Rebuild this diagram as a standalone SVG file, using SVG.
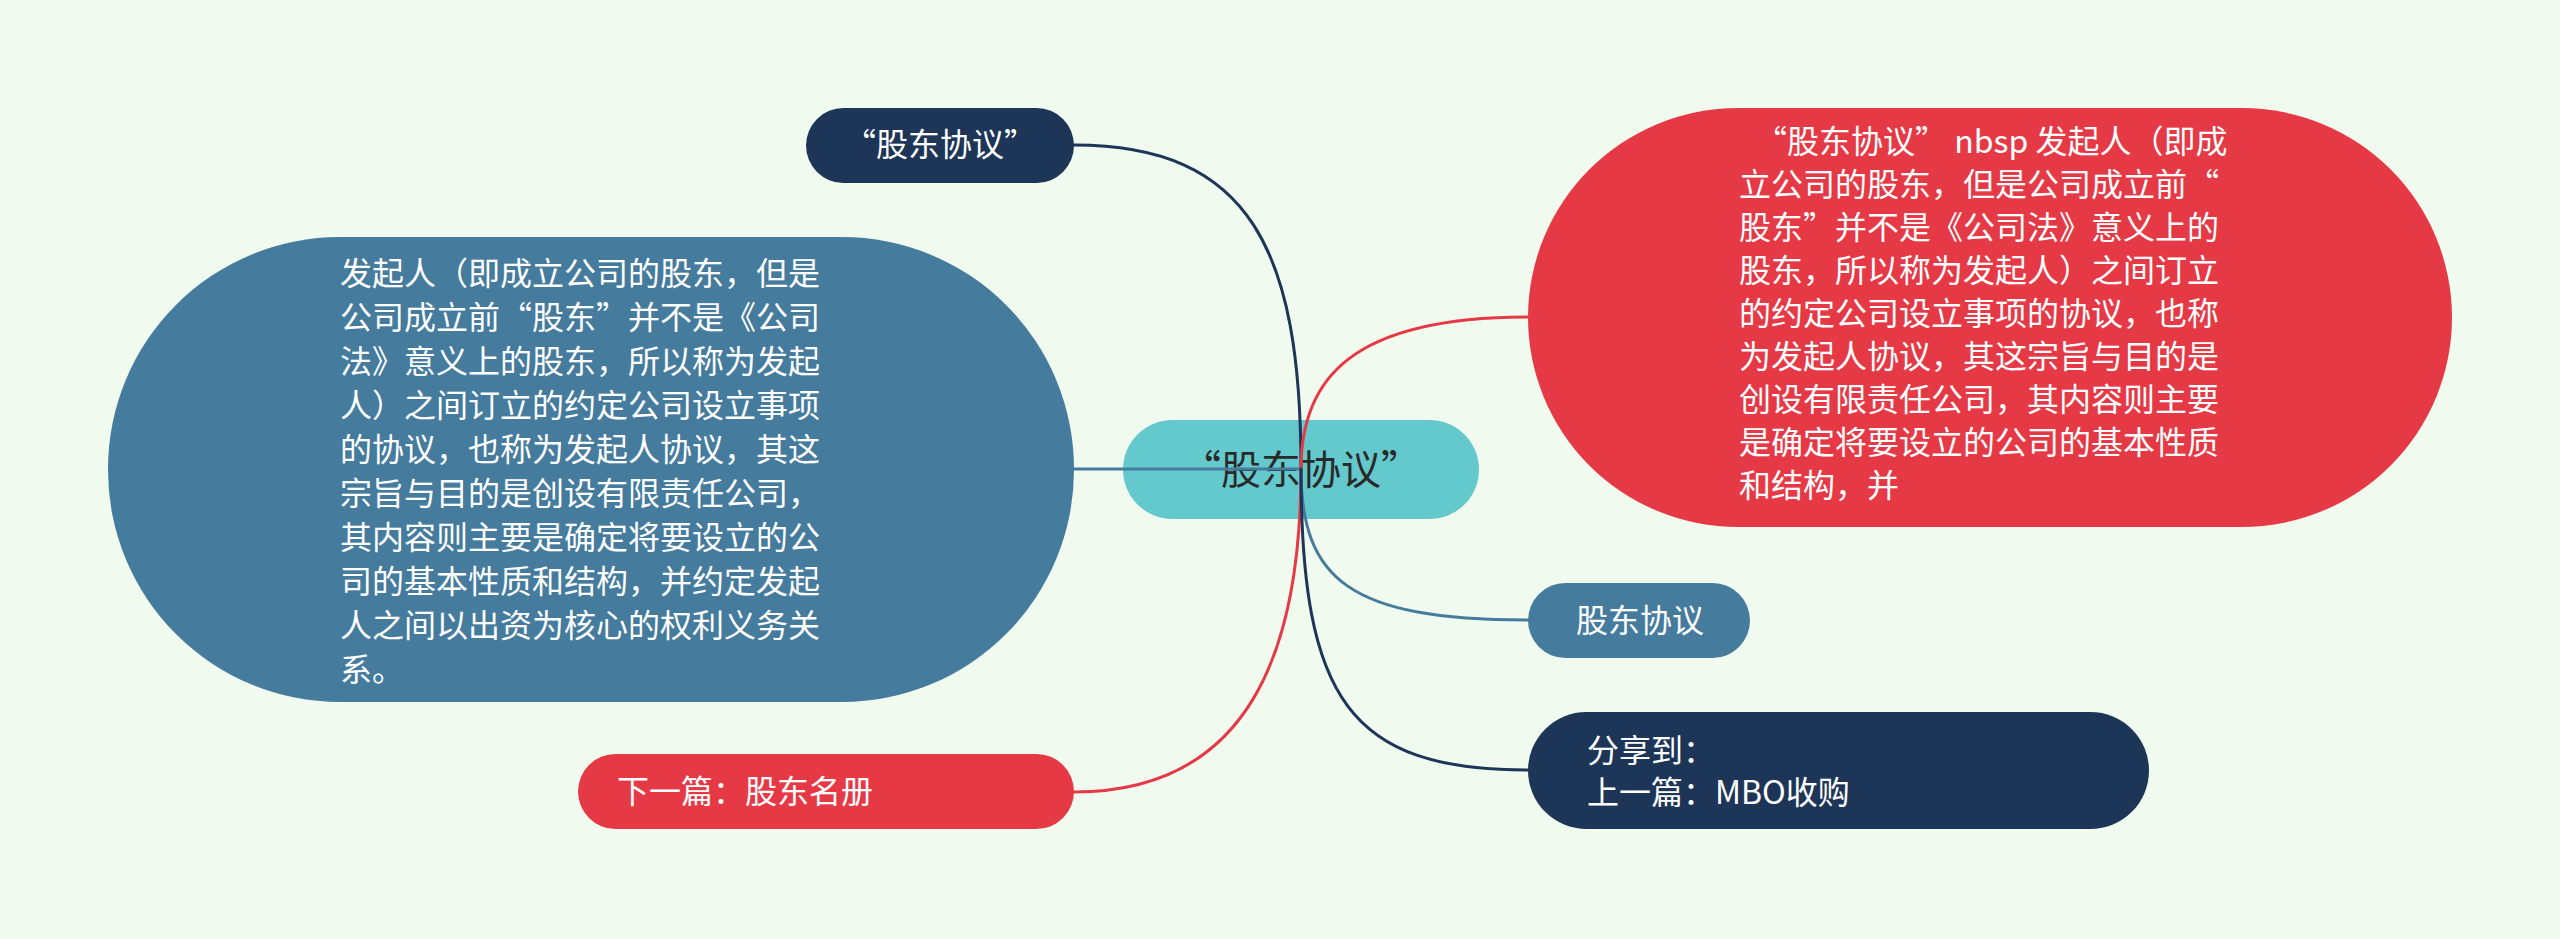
<svg xmlns="http://www.w3.org/2000/svg" width="2560" height="939" viewBox="0 0 2560 939">
<style>
.t{font-family:"Noto Sans CJK SC","Liberation Sans",sans-serif;font-size:32px;fill:#ffffff}
.c{fill:none;stroke-width:3;stroke-linecap:round}
</style>
<rect x="0" y="0" width="2560" height="939" fill="#F1FAEE"/>
<g id="node-top">
<rect x="806" y="108" width="268" height="75" rx="37.5" fill="#1D3557"/>
<text class="t" x="940" y="156" text-anchor="middle">“股东协议”</text>
</g>
<g id="node-left">
<rect x="108" y="237" width="966" height="465" rx="232" ry="232" fill="#457B9D"/>
<text class="t" x="340" y="285">
<tspan x="340" y="285">发起人（即成立公司的股东，但是</tspan>
<tspan x="340" y="329">公司成立前“股东”并不是《公司</tspan>
<tspan x="340" y="373">法》意义上的股东，所以称为发起</tspan>
<tspan x="340" y="417">人）之间订立的约定公司设立事项</tspan>
<tspan x="340" y="461">的协议，也称为发起人协议，其这</tspan>
<tspan x="340" y="505">宗旨与目的是创设有限责任公司，</tspan>
<tspan x="340" y="549">其内容则主要是确定将要设立的公</tspan>
<tspan x="340" y="593">司的基本性质和结构，并约定发起</tspan>
<tspan x="340" y="637">人之间以出资为核心的权利义务关</tspan>
<tspan x="340" y="681">系。</tspan>
</text>
</g>
<g id="node-right">
<rect x="1528" y="108" width="924" height="419" rx="210" ry="210" fill="#E63946"/>
<text class="t" x="1739" y="153">
<tspan x="1755" y="153">“股东协议” nbsp 发起人（即成</tspan>
<tspan x="1739" y="196">立公司的股东，但是公司成立前“</tspan>
<tspan x="1739" y="239">股东”并不是《公司法》意义上的</tspan>
<tspan x="1739" y="282">股东，所以称为发起人）之间订立</tspan>
<tspan x="1739" y="325">的约定公司设立事项的协议，也称</tspan>
<tspan x="1739" y="368">为发起人协议，其这宗旨与目的是</tspan>
<tspan x="1739" y="411">创设有限责任公司，其内容则主要</tspan>
<tspan x="1739" y="454">是确定将要设立的公司的基本性质</tspan>
<tspan x="1739" y="497">和结构，并</tspan>
</text>
</g>
<g id="node-small">
<rect x="1528" y="583" width="222" height="75" rx="37.5" fill="#457B9D"/>
<text class="t" x="1576" y="632">股东协议</text>
</g>
<g id="node-share">
<rect x="1528" y="712" width="621" height="117" rx="58.5" fill="#1D3557"/>
<text class="t" x="1587" y="762">
<tspan x="1587" y="762">分享到：</tspan>
<tspan x="1587" y="804">上一篇：MBO收购</tspan>
</text>
</g>
<g id="node-next">
<rect x="578" y="754" width="496" height="75" rx="37.5" fill="#E63946"/>
<text class="t" x="617" y="803">下一篇：股东名册</text>
</g>
<g id="node-center">
<rect x="1123" y="420" width="356" height="99" rx="49.5" fill="#64C9CC"/>
<text x="1301" y="484" text-anchor="middle" style="font-family:'Noto Sans CJK SC','Liberation Sans',sans-serif;font-size:40px;fill:#2a2a2a">“股东协议”</text>
</g>
<g id="connectors">
<path class="c" stroke="#1D3557" d="M1074,145 C1250,145 1301,250 1301,469"/>
<path class="c" stroke="#457B9D" d="M1074,469 L1301,469"/>
<path class="c" stroke="#E63946" d="M1528,317 C1350,317 1301,380 1301,469"/>
<path class="c" stroke="#E63946" d="M1074,792 C1250,792 1301,650 1301,469"/>
<path class="c" stroke="#457B9D" d="M1301,469 C1301,580 1350,620 1528,620"/>
<path class="c" stroke="#1D3557" d="M1301,469 C1301,700 1350,770 1528,770"/>
</g>
</svg>
